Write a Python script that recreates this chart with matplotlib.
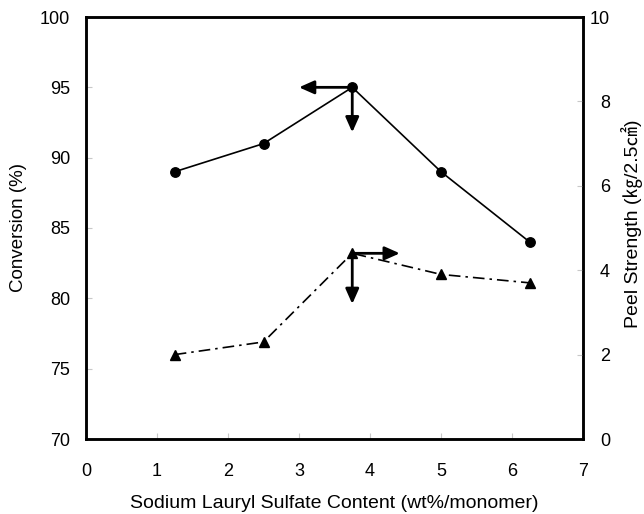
import matplotlib.pyplot as plt

plt.rcParams['font.family'] = ['Liberation Sans', 'Noto Sans CJK JP', 'DejaVu Sans']

# data
sls_content = [1.25, 2.5, 3.75, 5.0, 6.25]
conversion = [89, 91, 95, 89, 84]
peel_strength = [2.0, 2.3, 4.4, 3.9, 3.7]

xticks = [0, 1, 2, 3, 4, 5, 6, 7]
conv_ticks = [70, 75, 80, 85, 90, 95, 100]
peel_ticks = [0, 2, 4, 6, 8, 10]

fig = plt.figure(figsize=(6.44, 5.14), dpi=100)
ax = fig.add_axes([86 / 644, 1 - 439 / 514, (583 - 86) / 644, (439 - 17) / 514])
ax2 = ax.twinx()

ax.plot(sls_content, conversion, color='black', lw=1.2, marker='o', ms=6.8, zorder=3)
ax2.plot(sls_content, peel_strength, color='black', lw=1.2, ls=(0, (7, 3, 1.5, 3)),
         marker='^', ms=6.8, zorder=3)

# arrows pointing at the axis each curve belongs to
arrow = dict(arrowstyle='-|>,head_length=0.9,head_width=0.4', color='black', lw=2,
             shrinkA=0, shrinkB=0)
ax.annotate('', xy=(3.0, 95), xytext=(3.75, 95), arrowprops=arrow)
ax.annotate('', xy=(3.75, 91.8), xytext=(3.75, 95), arrowprops=arrow)
ax2.annotate('', xy=(4.42, 4.4), xytext=(3.75, 4.4), arrowprops=arrow)
ax2.annotate('', xy=(3.75, 3.2), xytext=(3.75, 4.4), arrowprops=arrow)

ax.set_xlim(0, 7)
ax.set_ylim(70, 100)
ax2.set_ylim(0, 10)
ax.set_xticks(xticks)
ax.set_yticks(conv_ticks)
ax2.set_yticks(peel_ticks)

for a in (ax, ax2):
    for s in a.spines.values():
        s.set_linewidth(1.8)
    a.tick_params(direction='in', length=4, width=0.8, color='#c8c8c8', labelsize=13)
ax.tick_params(axis='x', pad=17)
ax.tick_params(axis='y', pad=11.5)
ax2.tick_params(axis='y', pad=19.4)

ax.set_xlabel('Sodium Lauryl Sulfate Content (wt%/monomer)', fontsize=14, labelpad=11)
ax.set_ylabel('Conversion (%)', fontsize=13.5, labelpad=9.5)
ax2.set_ylabel('Peel Strength (\u338f/2.5\u33a0)', fontsize=14)
ax2.yaxis.label.set_va('center')
ax2.yaxis.set_label_coords((632 - 86) / 497, 0.51)

fig.canvas.draw()
for lab in ax2.get_yticklabels():
    lab.set_horizontalalignment('right')

fig.savefig('out.png', dpi=100)
